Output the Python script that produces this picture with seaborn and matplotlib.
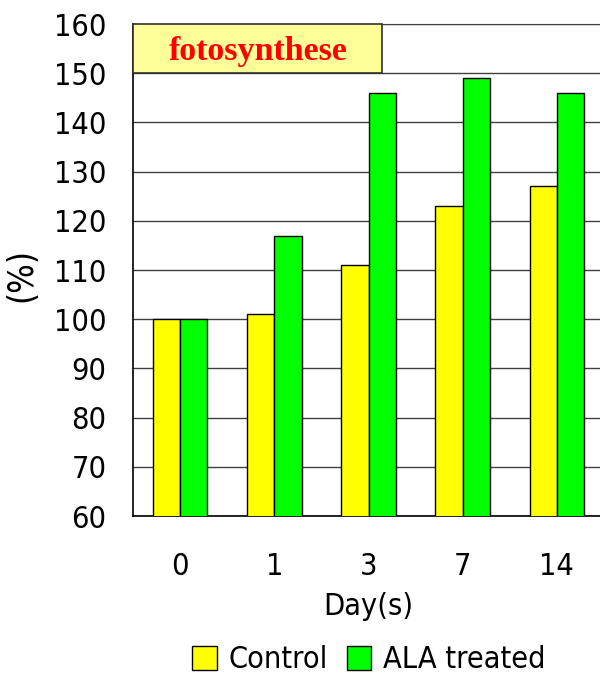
import matplotlib
matplotlib.use("Agg")
import matplotlib.pyplot as plt
import seaborn as sns
import pandas as pd
from matplotlib.patches import Patch, Rectangle

days = ["0", "1", "3", "7", "14"]
control = [100, 101, 111, 123, 127]
ala_treated = [100, 117, 146, 149, 146]
series_names = ["Control", "ALA treated"]
colors = ["#FFFF00", "#00FF00"]

df = pd.DataFrame({
    "day": days * 2,
    "value": control + ala_treated,
    "group": [series_names[0]] * len(days) + [series_names[1]] * len(days),
})

sns.set_style("white")
plt.rcParams["font.family"] = ["DejaVu Sans"]
plt.rcParams["font.stretch"] = "condensed"
plt.rcParams["text.color"] = "black"
plt.rcParams["axes.labelcolor"] = "black"
plt.rcParams["xtick.color"] = "black"
plt.rcParams["ytick.color"] = "black"

fig = plt.figure(figsize=(6, 6.75), dpi=100)
ax = fig.add_axes([133 / 600, 1 - 516 / 675, 471 / 600, 492 / 675])

sns.barplot(data=df, x="day", y="value", hue="group", order=days,
            hue_order=series_names, palette=colors, saturation=1,
            width=0.58, gap=0, edgecolor="black", linewidth=1,
            legend=False, ax=ax)
for b in ax.patches:
    b.set_zorder(3)

ax.set_ylim(60, 160)
ax.set_xlim(-0.5, 4.5)
ax.set_yticks(range(60, 161, 10))
ax.yaxis.grid(True, color="#404040", linewidth=1)
ax.set_axisbelow(True)

for side in ["left", "bottom"]:
    ax.spines[side].set_color("black")
    ax.spines[side].set_linewidth(1.2)
ax.spines["top"].set_color("#404040")
ax.spines["right"].set_visible(False)

ax.tick_params(axis="y", direction="in", length=10, width=1, labelsize=22, pad=19)
ax.set_xticks(range(len(days)))
ax.set_xticklabels(days)
ax.tick_params(axis="x", length=0, labelsize=22, pad=26)
ax.set_xticks([i + 0.5 for i in range(len(days) - 1)], minor=True)
ax.tick_params(axis="x", which="minor", direction="in", length=10, width=1)

ax.set_xlabel("Day(s)", fontsize=22, labelpad=8)
ax.set_ylabel("(%)", fontsize=25)
ax.yaxis.set_label_coords(-0.2, 0.49)

# title banner in the upper-left corner of the plot area
ax.add_patch(Rectangle((0, 0.9), 0.529, 0.1, transform=ax.transAxes,
                       facecolor="#FFFF99", edgecolor="#303030", linewidth=1.2,
                       zorder=5, clip_on=False))
ax.text(0.265, 0.945, "fotosynthese", transform=ax.transAxes,
        ha="center", va="center", fontsize=24.5, fontweight="bold",
        color="red", family="Liberation Serif", fontstretch="normal", zorder=6)

handles = [Patch(facecolor=c, edgecolor="black", linewidth=1) for c in colors]
fig.legend(handles, series_names, loc="center", bbox_to_anchor=(0.615, 1 - 660 / 675),
           ncol=2, frameon=False, fontsize=22, handlelength=0.8, handleheight=0.8,
           handletextpad=0.4, columnspacing=0.6, borderaxespad=0)

fig.savefig("out.png", dpi=100)
